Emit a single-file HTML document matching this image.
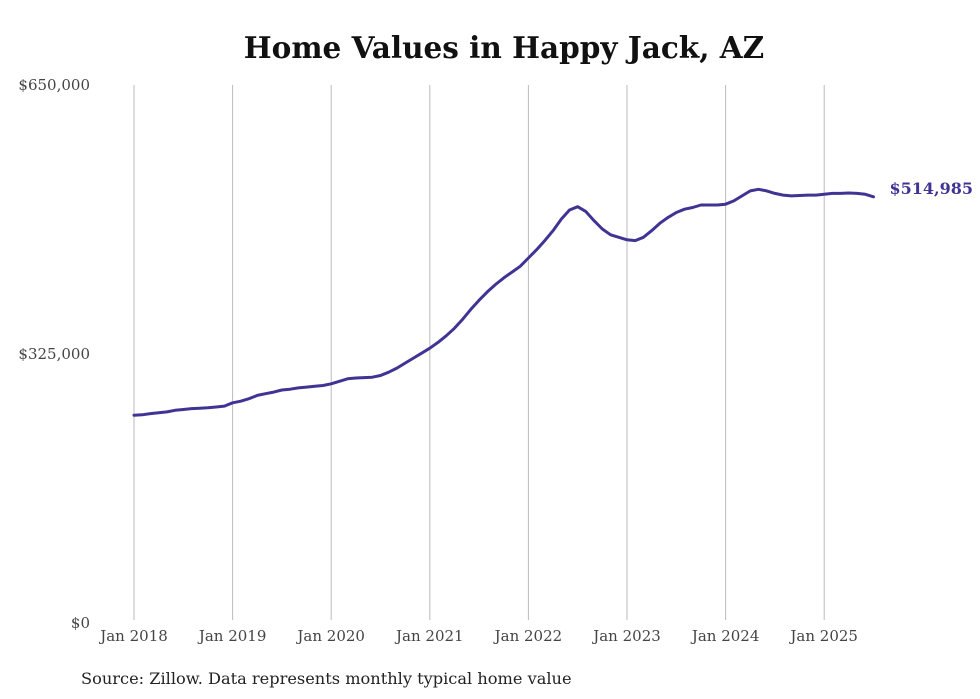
<!DOCTYPE html>
<html><head><meta charset="utf-8"><style>
body{margin:0;background:#fff;}
svg{display:block;font-family:"DejaVu Serif","Liberation Serif",serif;}
</style></head><body>
<svg id="chart" width="980" height="699" viewBox="0 0 980 699">
<text x="504" y="58" text-anchor="middle" font-size="29.5" font-weight="bold" fill="#111">Home Values in Happy Jack, AZ</text>
<g id="grid"></g><g id="yaxis"></g><g id="xaxis"></g><g id="series"></g>
<text x="81" y="684" font-size="16.2" fill="#222">Source: Zillow. Data represents monthly typical home value</text>
</svg>
<script>
const yTicks=[0,325000,650000];
const yTickLabels=["$0","$325,000","$650,000"];
const xYears=[2018,2019,2020,2021,2022,2023,2024,2025];
const xTickLabels=["Jan 2018","Jan 2019","Jan 2020","Jan 2021","Jan 2022","Jan 2023","Jan 2024","Jan 2025"];
const startYear=2018;
const values=[
251,251.5,253,254,255,257,258,259,259.5,260,261,262,
266,268,271,275,277,279,281.5,282.5,284,285,286,287,
289,292,295,296,296.5,297,299,303,308,314,320,326,
332,339,347,356,367,379,390,400,409,417,424,431,
441,451,462,474,488,499,503,497,486,476,469,466,
463,462,466,474,483,490,496,500,502,505,505,505,
506,510,516,522,524,522,519,517,516,516.5,517,517,
518,519,519,519.5,519,518,514.985];
const lastLabel="$514,985";
const NS="http://www.w3.org/2000/svg";
const X0=134,PX_YEAR=98.6,Y0=623,Y1=85,VMAX=650000;
const xs=t=>X0+(t-startYear)*PX_YEAR;
const ys=v=>Y0-(v/VMAX)*(Y0-Y1);
function mk(tag,attrs,parent){const e=document.createElementNS(NS,tag);for(const k in attrs)e.setAttribute(k,attrs[k]);parent.appendChild(e);return e;}
const grid=document.getElementById('grid'),ya=document.getElementById('yaxis'),xa=document.getElementById('xaxis'),se=document.getElementById('series');
xYears.forEach((yr,i)=>{
 const x=xs(yr);
 const l=mk('line',{x1:x,x2:x,y1:Y1,y2:620,stroke:'#bbb','stroke-width':1},grid);
 
 
 const t=mk('text',{x:x,y:641,'text-anchor':'middle','font-size':15,fill:'#444'},xa);
 t.textContent=xTickLabels[i];
 
 
});
yTicks.forEach((v,i)=>{
 const t=mk('text',{x:90,y:ys(v)+5,'text-anchor':'end','font-size':15,fill:'#444'},ya);
 t.textContent=yTickLabels[i];
 
 
});
let d='';
values.forEach((v,i)=>{const x=xs(startYear+i/12),y=ys(v*1000);d+=(i?'L':'M')+x.toFixed(1)+','+y.toFixed(1);});
const p=mk('path',{d:d,fill:'none',stroke:'#3f3494','stroke-width':3,'stroke-linejoin':'round','stroke-linecap':'round'},se);


const li=values.length-1;
const lt=mk('text',{x:xs(startYear+li/12)+16,y:ys(values[li]*1000)-3,'font-size':16,'font-weight':'bold',fill:'#3f3494'},se);
lt.textContent=lastLabel;


</script>
</body></html>
